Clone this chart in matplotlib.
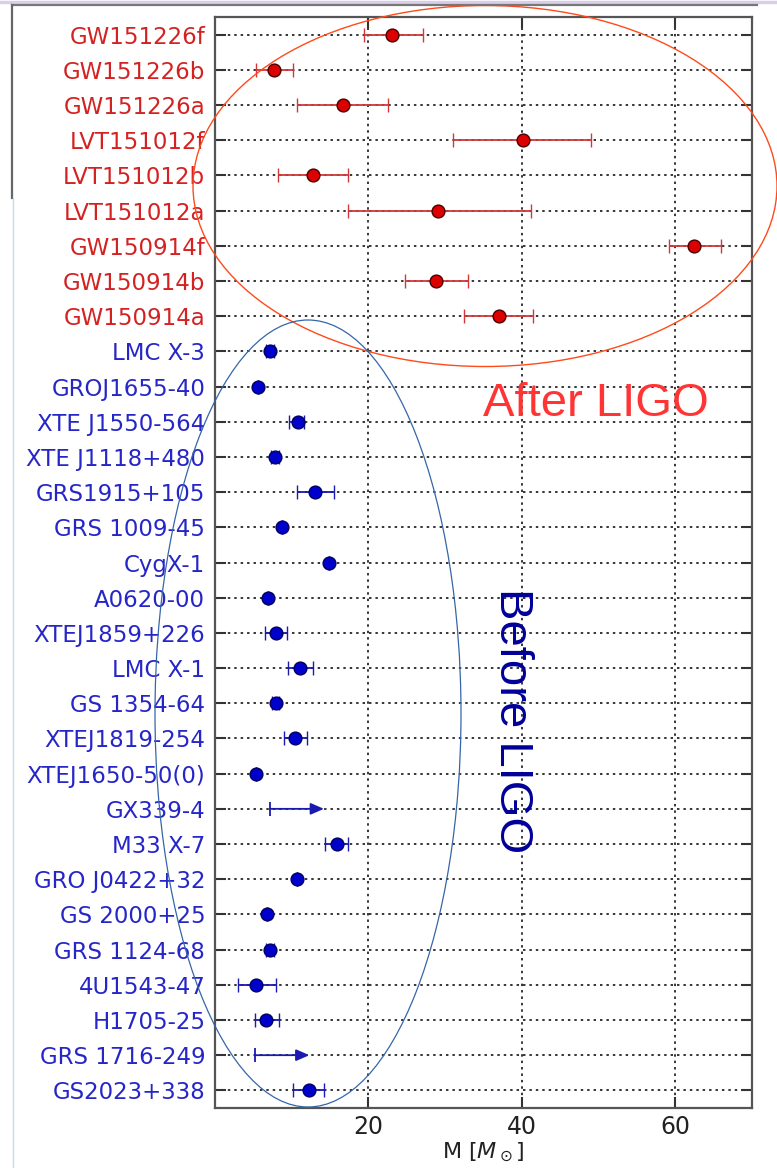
import numpy as np
import matplotlib
matplotlib.use('Agg')
import matplotlib.pyplot as plt
from matplotlib.patches import Ellipse
from matplotlib.lines import Line2D

# black hole masses, listed top to bottom
names = ['GW151226f', 'GW151226b', 'GW151226a', 'LVT151012f', 'LVT151012b',
         'LVT151012a', 'GW150914f', 'GW150914b', 'GW150914a',
         'LMC X-3', 'GROJ1655-40', 'XTE J1550-564', 'XTE J1118+480',
         'GRS1915+105', 'GRS 1009-45', 'CygX-1', 'A0620-00', 'XTEJ1859+226',
         'LMC X-1', 'GS 1354-64', 'XTEJ1819-254', 'XTEJ1650-50(0)', 'GX339-4',
         'M33 X-7', 'GRO J0422+32', 'GS 2000+25', 'GRS 1124-68', '4U1543-47',
         'H1705-25', 'GRS 1716-249', 'GS2023+338']
n_ligo = 9

mass = [23.1, 7.7, 16.7, 40.1, 12.8, 29.1, 62.5, 28.8, 37.0,
        7.2, 5.6, 10.8, 7.8, 13.1, 8.7, 14.9, 6.9, 8.0, 11.1, 7.9, 10.4, 5.4,
        np.nan, 15.9, 10.7, 6.8, 7.2, 5.4, 6.7, np.nan, 12.3]
err_lo = [3.7, 2.3, 6.0, 9.1, 4.6, 11.8, 3.3, 4.0, 4.5,
          0.5, 0.0, 1.1, 0.5, 2.4, 0.0, 0.0, 0.0, 1.5, 1.6, 0.5, 1.4, 0.0,
          0.0, 1.6, 0.0, 0.0, 0.5, 2.4, 1.5, 0.0, 2.1]
err_hi = [4.0, 2.5, 5.9, 8.9, 4.6, 12.1, 3.4, 4.2, 4.5,
          0.5, 0.0, 0.8, 0.5, 2.4, 0.0, 0.0, 0.0, 1.4, 1.7, 0.5, 1.6, 0.0,
          0.0, 1.4, 0.0, 0.0, 0.5, 2.6, 1.6, 0.0, 1.9]

# lower limits only
limit_names = ['GX339-4', 'GRS 1716-249']
limit_lo = [7.2, 5.2]
limit_arrow = [14.2, 12.3]

red_txt = '#D42222'
blue_txt = '#2626C8'

plt.rcParams['font.family'] = ['DejaVu Sans']
fig = plt.figure(figsize=(7.77, 11.68), dpi=100)
ax = fig.add_axes([0.2767, 0.0514, 0.6911, 0.934])

n = len(names)
ypos = np.arange(n)[::-1]
mass = np.array(mass)
err = np.array([err_lo, err_hi])

for sl, fc, ec, lc in [(slice(0, n_ligo), '#DD0000', '#4A0000', '#D03838'),
                       (slice(n_ligo, n), '#0000CC', '#000060', '#1A1AB0')]:
    ax.errorbar(mass[sl], ypos[sl], xerr=err[:, sl], fmt='o', ms=9.2,
                mfc=fc, mec=ec, mew=1.0, ecolor=lc, elinewidth=1.3,
                capsize=5, capthick=1.3, zorder=3)

for nm, lo, hi in zip(limit_names, limit_lo, limit_arrow):
    yy = ypos[names.index(nm)]
    ax.annotate('', xy=(hi, yy), xytext=(lo, yy), zorder=3,
                arrowprops=dict(arrowstyle='-|>,head_length=0.8,head_width=0.35',
                                color='#1A1AB0', lw=1.3,
                                shrinkA=0, shrinkB=0))
    ax.plot(lo, yy, marker='|', ms=10, mew=1.3, color='#1A1AB0', zorder=3)

ax.set_xlim(0, 70)
ax.set_ylim(-0.5, n - 0.5)
ax.set_xticks([20, 40, 60])
ax.set_yticks(ypos)
ax.set_yticklabels(names)
for i, lab in enumerate(ax.get_yticklabels()):
    lab.set_color(red_txt if i < n_ligo else blue_txt)

ax.grid(True, color='k', linestyle=(0, (1.6, 2.6)), linewidth=1.1)
ax.set_axisbelow(True)
ax.tick_params(axis='both', direction='in', length=8, width=1.5,
               color='#333333', top=True, right=True)
ax.tick_params(axis='y', pad=7, labelsize=16.5)
ax.tick_params(axis='x', pad=5, labelcolor='#222222', labelsize=17)
for s in ax.spines.values():
    s.set_color('#555555')
    s.set_linewidth(1.6)
ax.set_xlabel(r'M [$M_\odot$]', fontsize=16, color='#222222', labelpad=1)

# circled groups
fig.add_artist(Ellipse((485 / 777, 1 - 186 / 1168), 584 / 777, 361 / 1168,
                       transform=fig.transFigure, fill=False,
                       edgecolor='#FF4A1A', lw=1.0, clip_on=False))
fig.add_artist(Ellipse((308 / 777, 1 - 713.5 / 1168), 306 / 777, 787 / 1168,
                       transform=fig.transFigure, fill=False,
                       edgecolor='#3566A8', lw=0.9, clip_on=False))

ax.text(49.7, ypos[11] + 0.5, 'After LIGO', color='#FF3535', fontsize=34,
        family='Liberation Sans', ha='center', va='center')
ax.text(38.7, 10.5, 'Before LIGO', color='#00009A', fontsize=34,
        family='Liberation Sans', ha='center', va='center', rotation=-90)

# slide frame around the plot
fig.add_artist(Line2D([0, 1], [0.9985, 0.9985], transform=fig.transFigure,
                      color='#D9CDEA', lw=2.5))
fig.add_artist(Line2D([12 / 777, 757 / 777], [1 - 5 / 1168, 1 - 5 / 1168],
                      transform=fig.transFigure, color='#777777', lw=1.6))
fig.add_artist(Line2D([12 / 777, 12 / 777], [1 - 5 / 1168, 1 - 198 / 1168],
                      transform=fig.transFigure, color='#666666', lw=1.6))
fig.add_artist(Line2D([13 / 777, 13 / 777], [1 - 198 / 1168, 0],
                      transform=fig.transFigure, color='#C5DCEE', lw=1.0))

fig.savefig('out.png', dpi=100)
